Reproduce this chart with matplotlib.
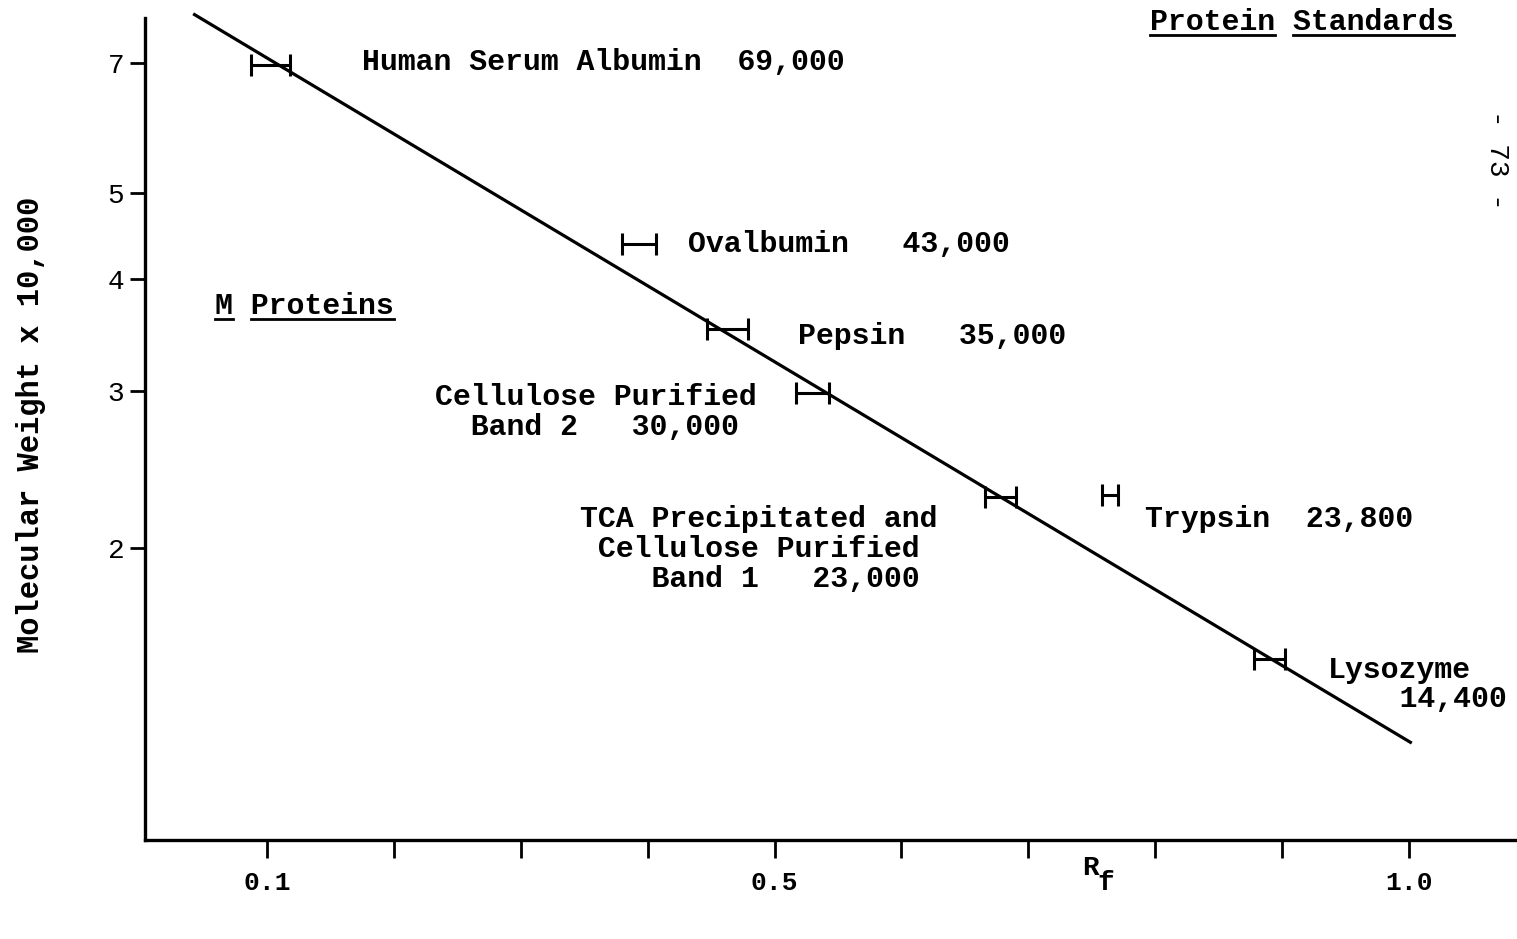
import matplotlib
matplotlib.use('Agg')
import numpy as np
import matplotlib.pyplot as plt
from matplotlib.lines import Line2D
from matplotlib.ticker import FixedLocator, FixedFormatter, NullLocator

# protein standards: R_f and molecular weight (x 10,000)
rf = [0.103, 0.393, 0.463, 0.530, 0.678, 0.764, 0.890]
mw = [6.96, 4.38, 3.52, 2.98, 2.28, 2.29, 1.50]
rf_err = [0.0154, 0.0134, 0.0164, 0.0130, 0.0122, 0.0063, 0.0122]

names = ['Human Serum Albumin  69,000',
         'Ovalbumin   43,000',
         'Pepsin   35,000',
         'Cellulose Purified\n  Band 2   30,000',
         'TCA Precipitated and\n Cellulose Purified\n    Band 1   23,000',
         'Trypsin  23,800',
         'Lysozyme\n    14,400']
name_x = [0.175, 0.432, 0.5185, 0.2324, 0.3467, 0.792, 0.936]
name_y = [7.02, 4.38, 3.457, 2.84, 1.994, 2.155, 1.405]

# fitted calibration line
fit_rf = [0.043, 1.001]
fit_mw = [7.93, 1.21]

x_ticks = [0.1, 0.2, 0.3, 0.4, 0.5, 0.6, 0.7, 0.8, 0.9, 1.0]
x_ticklabels = ['0.1', '', '', '', '0.5', '', '', '', '', '1.0']
y_ticks = [2, 3, 4, 5, 7]
y_ticklabels = ['2', '3', '4', '5', '7']

FONT = 'Liberation Mono'
plt.rcParams['font.family'] = [FONT, 'DejaVu Sans Mono']
plt.rcParams['mathtext.fontset'] = 'custom'
plt.rcParams['mathtext.rm'] = FONT + ':bold'
plt.rcParams['mathtext.bf'] = FONT + ':bold'

fig = plt.figure(figsize=(15.17, 9.39), dpi=100)
ax = fig.add_axes([0.0956, 0.1054, 0.9044, 0.8754])
ax.set_yscale('log')
ax.set_xlim(0.004, 1.085)
ax.set_ylim(0.940, 7.86)

ax.plot(fit_rf, fit_mw, color='black', lw=2.3, clip_on=False)
ax.errorbar(rf, mw, xerr=rf_err, fmt='none', ecolor='black',
            elinewidth=2.2, capsize=8, capthick=2.2)

for s, x, y in zip(names, name_x, name_y):
    ax.text(x, y, s, fontsize=21.5, fontweight='bold', ha='left', va='center',
            linespacing=1.08)

for side in ['top', 'right']:
    ax.spines[side].set_visible(False)
for side in ['left', 'bottom']:
    ax.spines[side].set_linewidth(2.4)

ax.xaxis.set_major_locator(FixedLocator(x_ticks))
ax.xaxis.set_major_formatter(FixedFormatter(x_ticklabels))
ax.yaxis.set_major_locator(FixedLocator(y_ticks))
ax.yaxis.set_major_formatter(FixedFormatter(y_ticklabels))
ax.yaxis.set_minor_locator(NullLocator())
ax.xaxis.set_minor_locator(NullLocator())
ax.tick_params(axis='x', length=13, width=2, pad=9, labelsize=19)
ax.tick_params(axis='y', length=11, width=2, pad=4, labelsize=20)
for lab in ax.get_xticklabels():
    lab.set_fontweight('bold')

ax.set_ylabel('Molecular Weight x 10,000', fontsize=22, fontweight='bold')
ax.yaxis.set_label_coords(-0.072, 0.505)
ax.text(0.689, -0.034, 'R', transform=ax.transAxes,
        fontsize=20, fontweight='bold', ha='center', va='center')
ax.text(0.7005, -0.052, 'f', transform=ax.transAxes,
        fontsize=20, fontweight='bold', ha='center', va='center')

# titles with underlined words
t_std = fig.text(1150 / 1517, 1 - 22 / 939, 'Protein Standards', fontsize=21.5,
                 fontweight='bold', ha='left', va='center')
t_m = ax.text(0.059, 3.74, 'M Proteins', fontsize=21.5, fontweight='bold',
              ha='left', va='center')
fig.text(1497 / 1517, 1 - 160 / 939, '- 73 -', fontsize=20, rotation=-90,
         ha='center', va='center')

fig.canvas.draw()
renderer = fig.canvas.get_renderer()
W, H = fig.bbox.width, fig.bbox.height
for t in [t_std, t_m]:
    s = t.get_text()
    bb = t.get_window_extent(renderer)
    cw = bb.width / len(s)
    i = 0
    for w in s.split(' '):
        if w:
            x0 = bb.x0 + i * cw
            x1 = x0 + len(w) * cw
            yl = bb.y0 + 1
            fig.add_artist(Line2D([x0 / W, x1 / W], [yl / H, yl / H],
                                  transform=fig.transFigure, color='black', lw=2))
        i += len(w) + 1

fig.savefig('out.png', dpi=100)
